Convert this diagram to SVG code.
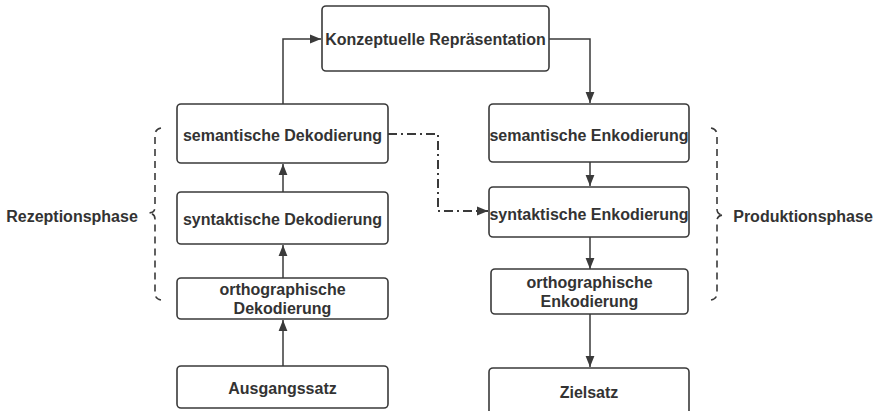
<svg xmlns="http://www.w3.org/2000/svg" width="879" height="411" viewBox="0 0 879 411">
<defs>
<marker id="ah" viewBox="0 0 10 10" refX="10" refY="5" markerWidth="11" markerHeight="11" markerUnits="userSpaceOnUse" orient="auto">
<path d="M0,1 L10,5 L0,9 Z" fill="#3a3a3a"/>
</marker>
<style>
.box{fill:#fff;stroke:#3a3a3a;stroke-width:1.6}
.t{font-family:"Liberation Sans","Open Sans",Arial,sans-serif;font-weight:bold;font-size:16px;fill:#333;text-anchor:middle;dominant-baseline:central}
.c{fill:none;stroke:#3a3a3a;stroke-width:1.5}
.dd{fill:none;stroke:#3a3a3a;stroke-width:2;stroke-dasharray:9,4,2,4}
.br{fill:none;stroke:#3a3a3a;stroke-width:1.6;stroke-dasharray:7,5}
</style>
</defs>
<rect width="879" height="411" fill="#fff"/>
<g id="connectors">
<path class="c" d="M283,104 V39 H321" marker-end="url(#ah)"/>
<path class="c" d="M549,39 H590 V103" marker-end="url(#ah)"/>
<path class="c" d="M283,192 V164" marker-end="url(#ah)"/>
<path class="c" d="M283,278 V245" marker-end="url(#ah)"/>
<path class="c" d="M283,366 V320" marker-end="url(#ah)"/>
<path class="c" d="M590,162 V186" marker-end="url(#ah)"/>
<path class="c" d="M590,237 V269" marker-end="url(#ah)"/>
<path class="c" d="M590,314 V367" marker-end="url(#ah)"/>
<path class="dd" d="M388,134 H438 V211 H488" marker-end="url(#ah)"/>
</g>
<g id="n-konzept"><rect class="box" x="322" y="6" width="227" height="65" rx="4"/><text class="t" x="435.5" y="39">Konzeptuelle Repräsentation</text></g>
<g id="n-semdek"><rect class="box" x="177" y="104" width="211" height="59" rx="4"/><text class="t" x="282.5" y="135">semantische Dekodierung</text></g>
<g id="n-syndek"><rect class="box" x="177" y="192" width="211" height="52" rx="4"/><text class="t" x="282.5" y="219">syntaktische Dekodierung</text></g>
<g id="n-orthdek"><rect class="box" x="177" y="278" width="211" height="41" rx="4"/><text class="t" x="282.5" y="289.5">orthographische</text><text class="t" x="282.5" y="308">Dekodierung</text></g>
<g id="n-ausgang"><rect class="box" x="177" y="366" width="211" height="42" rx="4"/><text class="t" x="282.5" y="388">Ausgangssatz</text></g>
<g id="n-semenk"><rect class="box" x="489" y="104" width="200" height="58" rx="4"/><text class="t" x="589" y="135">semantische Enkodierung</text></g>
<g id="n-synenk"><rect class="box" x="489" y="187" width="200" height="50" rx="4"/><text class="t" x="589" y="214">syntaktische Enkodierung</text></g>
<g id="n-orthenk"><rect class="box" x="491" y="269" width="197" height="45" rx="4"/><text class="t" x="589.5" y="282.5">orthographische</text><text class="t" x="589.5" y="301">Enkodierung</text></g>
<g id="n-ziel"><rect class="box" x="489" y="368" width="200" height="50" rx="4"/><text class="t" x="589" y="392">Zielsatz</text></g>
<g id="rezeption">
<path class="br" d="M161,128 Q155,129 155,135 V207 Q155,213 148,213 Q155,213 155,219 V293 Q155,299 161,300"/>
<text class="t" x="72" y="216">Rezeptionsphase</text>
</g>
<g id="produktion">
<path class="br" d="M711,128 Q717,129 717,135 V209 Q717,215 724,215 Q717,215 717,221 V293 Q717,299 711,300"/>
<text class="t" x="803" y="216">Produktionsphase</text>
</g>
</svg>
